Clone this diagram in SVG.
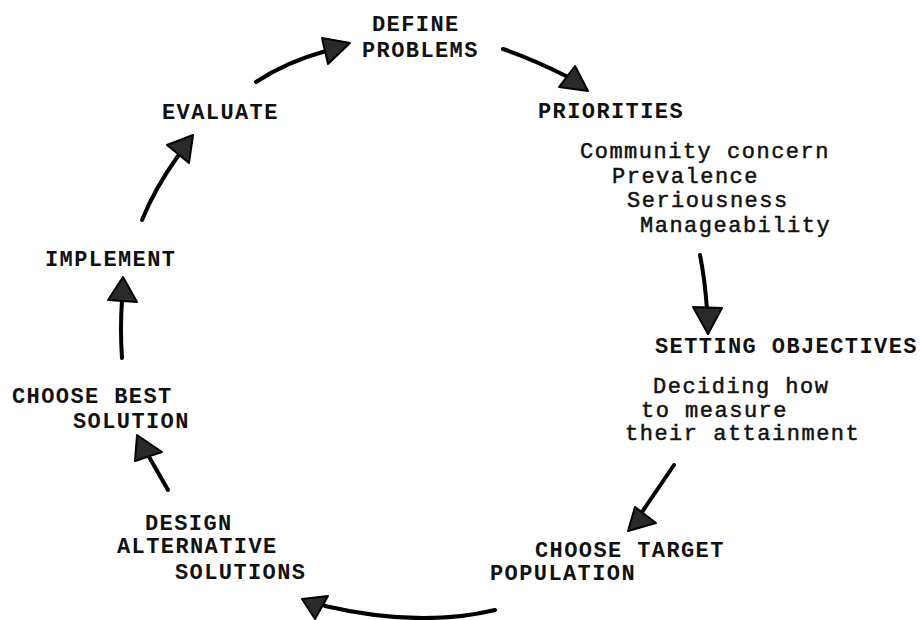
<svg xmlns="http://www.w3.org/2000/svg" width="920" height="620" viewBox="0 0 920 620">
<style>
.cap{font-family:"Liberation Mono","Courier New",monospace;font-size:22px;letter-spacing:1.4px;font-weight:bold;fill:#111}
.low{font-family:"Liberation Mono","Courier New",monospace;font-size:22px;letter-spacing:1.5px;fill:#111;stroke:#111;stroke-width:0.5}
.ln{fill:none;stroke:#000;stroke-width:4;stroke-linecap:round}
.head{fill:#2a2a2a;stroke:#000;stroke-width:2;stroke-linejoin:round}
</style>
<rect width="920" height="620" fill="#fff"/>
<g id="define-problems"><text class="cap" x="372" y="31">DEFINE</text><text class="cap" x="362" y="57">PROBLEMS</text></g>
<g id="priorities"><text class="cap" x="538" y="118">PRIORITIES</text>
<text class="low" x="580" y="158">Community concern</text>
<text class="low" x="612" y="183">Prevalence</text>
<text class="low" x="627" y="207">Seriousness</text>
<text class="low" x="640" y="232">Manageability</text></g>
<g id="setting-objectives"><text class="cap" x="655" y="353">SETTING OBJECTIVES</text>
<text class="low" x="653" y="393">Deciding how</text>
<text class="low" x="641" y="417">to measure</text>
<text class="low" x="625" y="440">their attainment</text></g>
<g id="choose-target"><text class="cap" x="535" y="557">CHOOSE TARGET</text><text class="cap" x="490" y="580">POPULATION</text></g>
<g id="design-alternative"><text class="cap" x="145" y="530">DESIGN</text><text class="cap" x="117" y="553">ALTERNATIVE</text><text class="cap" x="175" y="579">SOLUTIONS</text></g>
<g id="choose-best"><text class="cap" x="12" y="403">CHOOSE BEST</text><text class="cap" x="73" y="428">SOLUTION</text></g>
<g id="implement"><text class="cap" x="45" y="266">IMPLEMENT</text></g>
<g id="evaluate"><text class="cap" x="162" y="119">EVALUATE</text></g>
<g id="connectors">
<path class="ln" d="M256,82 Q286,62 326,51"/><polygon class="head" points="322,38 350,43 328,64"/>
<path class="ln" d="M503,49 Q535,60 566,76"/><polygon class="head" points="575,66 588,91 559,87"/>
<path class="ln" d="M700,255 Q705,280 707,310"/><polygon class="head" points="693,307 722,308 708,334"/>
<path class="ln" d="M674,465 L640,515"/><polygon class="head" points="635,507 656,523 628,531"/>
<path class="ln" d="M495,610 Q420,628 325,606"/><polygon class="head" points="302,599 328,596 315,619"/>
<path class="ln" d="M168,490 L148,455"/><polygon class="head" points="137,435 135,461 162,452"/>
<path class="ln" d="M122,358 Q120,330 122,300"/><polygon class="head" points="123,277 108,300 137,302"/>
<path class="ln" d="M142,220 Q155,188 178,156"/><polygon class="head" points="167,145 193,135 189,163"/>
</g>
</svg>
